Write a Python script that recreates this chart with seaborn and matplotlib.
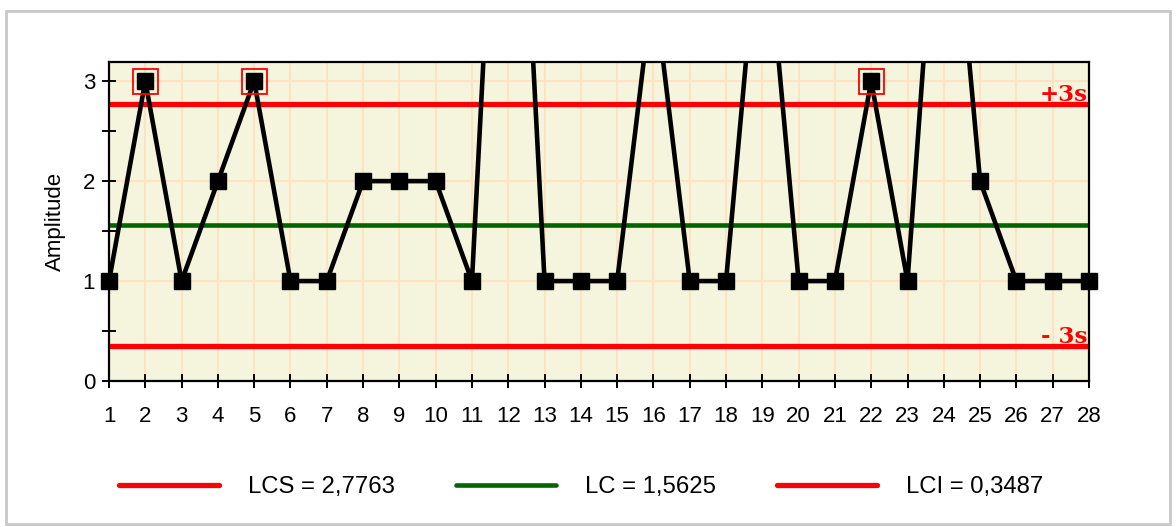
import matplotlib
matplotlib.use("Agg")
import seaborn as sns
import matplotlib.pyplot as plt
import pandas as pd
from matplotlib.patches import Rectangle

# valores da carta de controle
samples = list(range(1, 29))
amplitude = [1, 3, 1, 2, 3, 1, 1, 2, 2, 2, 1, 8, 1, 1, 1, 4, 1, 1, 5, 1, 1, 3, 1, 6, 2, 1, 1, 1]
lcs = 2.7763
lc = 1.5625
lci = 0.3487
limit_labels = ['LCS = 2,7763', 'LC = 1,5625', 'LCI = 0,3487']

df = pd.DataFrame({'amostra': samples, 'amplitude': amplitude})
ymax = 3.19
visivel = df[df['amplitude'] <= ymax]
fora = visivel[visivel['amplitude'] > lcs]

sns.set_style('white')
plt.rcParams['font.family'] = ['Liberation Sans', 'DejaVu Sans']
plt.rcParams['text.color'] = 'black'
plt.rcParams['axes.labelcolor'] = 'black'

fig = plt.figure(figsize=(11.76, 5.27), dpi=100)
fig.patches.append(Rectangle((0.005, 0.005), 0.99, 0.975, transform=fig.transFigure,
                             fill=False, edgecolor='#c8c8c8', linewidth=2))
ax = fig.add_axes([0.0927, 0.277, 0.8333, 0.605])
ax.set_facecolor('#f5f4dc')

# linhas de limite
l1 = ax.axhline(lcs, color='#ff0000', lw=3.8, zorder=2, solid_capstyle='round')
l2 = ax.axhline(lc, color='#006400', lw=3.3, zorder=2, solid_capstyle='round')
l3 = ax.axhline(lci, color='#ff0000', lw=3.8, zorder=2, solid_capstyle='round')

sns.lineplot(data=df, x='amostra', y='amplitude', color='black', lw=3.3, ax=ax, zorder=3)
ax.plot(fora['amostra'], fora['amplitude'], 's', ms=18, mfc='none', mec='#ff0000', mew=1.3,
        zorder=3, clip_on=False)
ax.plot(visivel['amostra'], visivel['amplitude'], 's', ms=12, color='black', zorder=4, clip_on=False)

ax.set_xlim(1, 28)
ax.set_ylim(0, ymax)
ax.set_xticks(samples)
ax.set_yticks([0, 1, 2, 3])
ax.set_yticks([0.5, 1.5, 2.5], minor=True)
ax.grid(True, which='major', color='#fde3c4', lw=1.5, zorder=0)
ax.set_axisbelow(True)
ax.tick_params(which='both', bottom=True, left=True, direction='inout', length=10, width=1.4,
               labelsize=16, colors='black')
ax.tick_params(axis='x', pad=13)
ax.tick_params(axis='y', pad=5)
for s in ax.spines.values():
    s.set_color('black')
    s.set_linewidth(1.6)
ax.set_xlabel('')
ax.set_ylabel('Amplitude', fontsize=16, labelpad=12, color='black')

ax.text(27.97, lcs + 0.03, '+3s', color='#ff0000', fontsize=16.5, fontweight='bold',
        family='DejaVu Serif', ha='right', va='baseline')
ax.text(27.97, lci + 0.03, '- 3s', color='#ff0000', fontsize=16.5, fontweight='bold',
        family='DejaVu Serif', ha='right', va='baseline')

fig.legend([l1, l2, l3], limit_labels, loc='center', bbox_to_anchor=(0.494, 0.076), ncol=3,
           frameon=False, fontsize=17.2, handlelength=4.2, handletextpad=1.2, columnspacing=2.55,
           labelcolor='black')

fig.savefig('out.png', dpi=100)
